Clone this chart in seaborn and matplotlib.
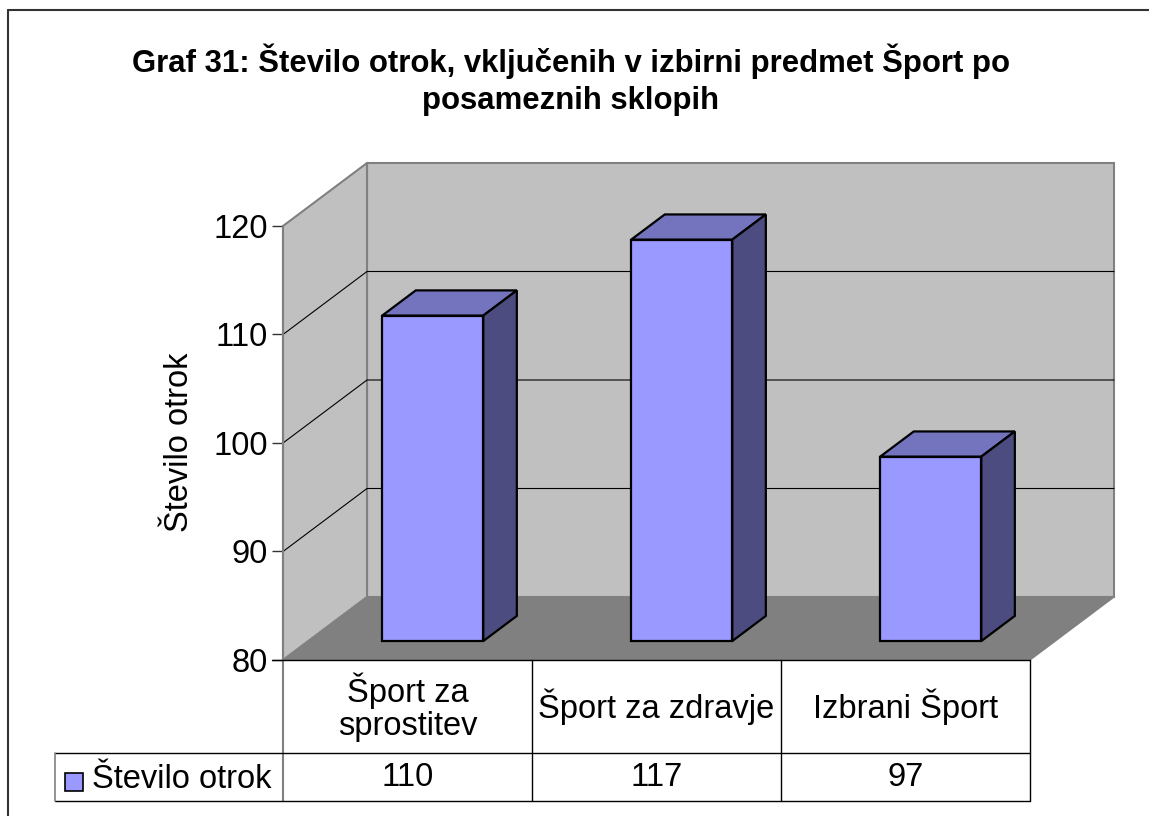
# 3D stolpčni graf s podatkovno tabelo (seaborn + matplotlib)
import matplotlib
matplotlib.use("Agg")
import matplotlib.pyplot as plt
from matplotlib.patches import Polygon, Rectangle
from matplotlib.lines import Line2D
import seaborn as sns

# Podatki
categories = ["Šport za\nsprostitev", "Šport za zdravje", "Izbrani Šport"]
values = [110, 117, 97]
series_name = "Število otrok"
title = "Graf 31: Število otrok, vključenih v izbirni predmet Šport po\nposameznih sklopih"
y_label = "Število otrok"
y_ticks = [80, 90, 100, 110, 120]

W, H = 1149, 816
FS = 23.5

sns.set_theme(style="white")
plt.rcParams["font.family"] = ["Liberation Sans", "DejaVu Sans"]
plt.rcParams["text.color"] = "black"


def px(x, y):
    """Pretvori piksle (od zgoraj levo) v koordinate slike."""
    return x / W, 1 - y / H


fig = plt.figure(figsize=(W / 100, H / 100), dpi=100)
fig.patch.set_facecolor("white")

# Os = sprednja ravnina 3D škatle
x0, y0 = px(283, 660)
x1, y1 = px(1030, 226)
ax = fig.add_axes([x0, y0, x1 - x0, y1 - y0])
ax.set_facecolor("none")
ax.set_xlim(-0.5, 2.5)
ax.set_ylim(80, 120)

# Globinski vektor v enotah podatkov
DX = 84 / 249
DY = 63 / (434 / 40)
bar_w = 0.406
d_front, d_back = 0.3, 0.7

wall = "#C0C0C0"
floor = "#808080"
edge_gray = "#808080"

# Zadnja stena
ax.add_patch(Polygon([(-0.5 + DX, 80 + DY), (2.5 + DX, 80 + DY),
                      (2.5 + DX, 120 + DY), (-0.5 + DX, 120 + DY)],
                     closed=True, fc=wall, ec=edge_gray, lw=1.5,
                     clip_on=False, zorder=0))
# Leva stena
ax.add_patch(Polygon([(-0.5, 80), (-0.5 + DX, 80 + DY),
                      (-0.5 + DX, 120 + DY), (-0.5, 120)],
                     closed=True, fc=wall, ec=edge_gray, lw=1.5,
                     clip_on=False, zorder=0))
# Tla
ax.add_patch(Polygon([(-0.5, 80), (2.5, 80), (2.5 + DX, 80 + DY),
                      (-0.5 + DX, 80 + DY)],
                     closed=True, fc=floor, ec=floor, lw=1,
                     clip_on=False, zorder=1))

# Mreža na stenah
for v in y_ticks[1:-1]:
    ax.plot([-0.5, -0.5 + DX, 2.5 + DX], [v, v + DY, v + DY],
            color="black", lw=0.8, clip_on=False, zorder=1)

# Stolpci (sprednje ploskve) s seabornom
sns.barplot(x=categories, y=values, width=bar_w, color="#9999FF",
            saturation=1, edgecolor="black", linewidth=1.6, ax=ax, zorder=5)

for patch, v in zip(ax.patches[3:], values):
    bx = patch.get_x() + d_front * DX
    base = 80 + d_front * DY
    top = v + d_front * DY
    patch.set_x(bx)
    patch.set_y(base)
    patch.set_height(v - 80)
    patch.set_clip_on(False)
    patch.set_joinstyle("miter")
    ddx = (d_back - d_front) * DX
    ddy = (d_back - d_front) * DY
    bx2 = bx + bar_w
    # zgornja ploskev
    ax.add_patch(Polygon([(bx, top), (bx2, top), (bx2 + ddx, top + ddy),
                          (bx + ddx, top + ddy)],
                         closed=True, fc="#7373BE", ec="black", lw=1.6,
                         joinstyle="miter", clip_on=False, zorder=4))
    # stranska ploskev
    ax.add_patch(Polygon([(bx2, base), (bx2 + ddx, base + ddy),
                          (bx2 + ddx, top + ddy), (bx2, top)],
                         closed=True, fc="#4C4C80", ec="black", lw=1.6,
                         joinstyle="miter", clip_on=False, zorder=4))

# Osi
for s in ["top", "right", "bottom"]:
    ax.spines[s].set_visible(False)
ax.spines["left"].set_color(edge_gray)
ax.spines["left"].set_linewidth(1.5)
ax.set_yticks(y_ticks)
ax.set_yticklabels([str(t) for t in y_ticks], fontsize=FS)
ax.tick_params(axis="y", left=True, length=8, width=1, color="#333333",
               pad=3, labelcolor="black")
ax.set_xticks([])
ax.set_xlabel("")
ax.set_ylabel("")

# Podatkovna tabela
lc = "black"
lw = 1.0
col_x = [283, 532, 781, 1030]
for cx in col_x[1:]:
    fig.add_artist(Line2D(*zip(px(cx, 660), px(cx, 801)), color=lc, lw=lw))
fig.add_artist(Line2D(*zip(px(283, 660), px(283, 801)), color=edge_gray, lw=1.5))
fig.add_artist(Line2D(*zip(px(272, 660), px(1030, 660)), color=lc, lw=lw))
fig.add_artist(Line2D(*zip(px(55, 753), px(1030, 753)), color=lc, lw=lw))
fig.add_artist(Line2D(*zip(px(55, 801), px(1030, 801)), color=lc, lw=lw))
fig.add_artist(Line2D(*zip(px(55, 753), px(55, 801)), color=edge_gray, lw=1.2))

for i, (cat, v) in enumerate(zip(categories, values)):
    cx = (col_x[i] + col_x[i + 1]) / 2
    fig.text(*px(cx, 707), cat, ha="center", va="center", fontsize=FS,
             linespacing=1.1)
    fig.text(*px(cx, 778), str(v), ha="center", va="center", fontsize=FS)

# Legenda v tabeli
lx, ly = px(65, 791)
fig.add_artist(Rectangle((lx, ly), 18 / W, 18 / H, transform=fig.transFigure,
                         fc="#9999FF", ec="black", lw=1.2))
fig.text(*px(92, 779), series_name, ha="left", va="center", fontsize=FS)

# Naslov in oznaka osi Y
fig.text(*px(571, 80), title, ha="center", va="center", fontsize=22.4,
         fontweight="bold", linespacing=1.3)
fig.text(*px(180, 442), y_label, ha="center", va="center", fontsize=FS,
         rotation=90)

# Okvir
fig.add_artist(Line2D(*zip(px(8, 10), px(8, 816)), color="#333333", lw=1.5))
fig.add_artist(Line2D(*zip(px(8, 10), px(1149, 10)), color="#333333", lw=1.5))

fig.savefig("out.png", dpi=100, facecolor="white")
